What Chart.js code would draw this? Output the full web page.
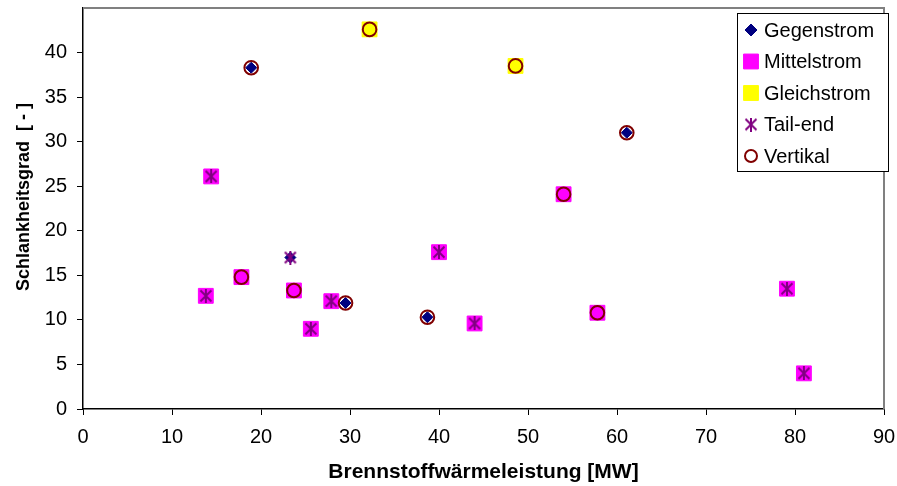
<!DOCTYPE html>
<html>
<head>
<meta charset="utf-8">
<script src="https://cdn.jsdelivr.net/npm/chart.js@4.4.1/dist/chart.umd.min.js"></script>
<style>
  body { margin: 0; background: #fff; }
</style>
</head>
<body>
<canvas id="myChart" width="897" height="486"></canvas>
<script>
// values
const gegenstromX = [18.9, 61.1, 38.7, 29.5, 23.3];
const gegenstromY = [38.3, 31.0, 10.3, 11.9, 17.0];

const mittelstromX = [14.4, 54.0, 40.0, 44.0, 57.8, 17.8, 13.8, 23.7, 27.9, 25.6, 79.1, 81.0];
const mittelstromY = [26.1, 24.1, 17.6, 9.6, 10.8, 14.8, 12.7, 13.3, 12.1, 9.0, 13.5, 4.0];

const gleichstromX = [32.2, 48.6];
const gleichstromY = [42.6, 38.5];

const tailEndX = [14.4, 40.0, 44.0, 13.8, 27.9, 25.6, 79.1, 81.0, 23.3];
const tailEndY = [26.1, 17.6, 9.6, 12.7, 12.1, 9.0, 13.5, 4.0, 17.0];

const vertikalX = [18.9, 32.2, 48.6, 61.1, 54.0, 38.7, 57.8, 17.8, 23.7, 29.5];
const vertikalY = [38.3, 42.6, 38.5, 31.0, 24.1, 10.3, 10.8, 14.8, 13.3, 11.9];

const xTitle = 'Brennstoffwärmeleistung [MW]';
const yTitle = 'Schlankheitsgrad  [ - ]';

const FONT = '"Liberation Sans", Arial, sans-serif';

function toPoints(xs, ys) {
    return xs.map((x, i) => ({ x: x, y: ys[i] }));
}

// excel style asterisk: vertical bar plus an X
function makeAsterisk(size, color) {
    const c = document.createElement('canvas');
    c.width = size;
    c.height = size;
    const g = c.getContext('2d');
    g.strokeStyle = color;
    g.lineWidth = 2;
    g.beginPath();
    g.moveTo(size / 2, 0);
    g.lineTo(size / 2, size);
    g.moveTo(1.5, 1.5);
    g.lineTo(size - 1.5, size - 1.5);
    g.moveTo(size - 1.5, 1.5);
    g.lineTo(1.5, size - 1.5);
    g.stroke();
    return c;
}
const asterisk = makeAsterisk(14, '#800080');

// gray frame on top and right of the plot area
const framePlugin = {
    id: 'frame',
    beforeDatasetsDraw(chart) {
        const { ctx, chartArea: a } = chart;
        ctx.save();
        ctx.strokeStyle = '#808080';
        ctx.lineWidth = 2;
        ctx.beginPath();
        ctx.moveTo(a.left, a.top);
        ctx.lineTo(a.right, a.top);
        ctx.lineTo(a.right, a.bottom);
        ctx.stroke();
        ctx.restore();
    }
};

// rotated y title (not centred on the axis in the original)
const yTitlePlugin = {
    id: 'yTitle',
    afterDraw(chart) {
        const ctx = chart.ctx;
        ctx.save();
        ctx.translate(24, 197);
        ctx.rotate(-Math.PI / 2);
        ctx.font = 'bold 18px ' + FONT;
        ctx.fillStyle = '#000';
        ctx.textAlign = 'center';
        ctx.textBaseline = 'middle';
        ctx.fillText(yTitle, 0, 0);
        ctx.restore();
    }
};

// boxed legend inside the plot, top right
const legendPlugin = {
    id: 'boxLegend',
    afterDraw(chart) {
        const ctx = chart.ctx;
        const left = 737, top = 13, right = 888, bottom = 171;
        ctx.save();
        ctx.fillStyle = '#fff';
        ctx.fillRect(left, top, right - left, bottom - top);
        ctx.strokeStyle = '#000';
        ctx.lineWidth = 1;
        ctx.strokeRect(left + 0.5, top + 0.5, right - left, bottom - top);

        ctx.font = '20px ' + FONT;
        ctx.textBaseline = 'middle';
        chart.data.datasets.forEach((ds, i) => {
            const y = 30 + i * 31.5;
            ctx.fillStyle = ds.backgroundColor;
            ctx.strokeStyle = ds.borderColor;
            ctx.lineWidth = ds.borderWidth || 1;
            Chart.helpers.drawPoint(ctx, {
                pointStyle: ds.pointStyle,
                rotation: 0,
                radius: ds.legendRadius,
                borderWidth: ds.borderWidth || 1
            }, 751, y);
            ctx.fillStyle = '#000';
            ctx.fillText(ds.label, 764, y + 1);
        });
        ctx.restore();
    }
};

const ctx = document.getElementById('myChart').getContext('2d');

new Chart(ctx, {
    type: 'scatter',
    data: {
        datasets: [
            {
                label: 'Gegenstrom',
                data: toPoints(gegenstromX, gegenstromY),
                pointStyle: 'rectRot',
                radius: 5.5,
                legendRadius: 6,
                backgroundColor: '#000080',
                borderColor: '#000080',
                borderWidth: 1,
                order: 3
            },
            {
                label: 'Mittelstrom',
                data: toPoints(mittelstromX, mittelstromY),
                pointStyle: 'rect',
                radius: 10.5,
                legendRadius: 10.5,
                backgroundColor: '#FF00FF',
                borderColor: '#FF00FF',
                borderWidth: 1,
                order: 5
            },
            {
                label: 'Gleichstrom',
                data: toPoints(gleichstromX, gleichstromY),
                pointStyle: 'rect',
                radius: 10.5,
                legendRadius: 10.5,
                backgroundColor: '#FFFF00',
                borderColor: '#FFFF00',
                borderWidth: 1,
                order: 4
            },
            {
                label: 'Tail-end',
                data: toPoints(tailEndX, tailEndY),
                pointStyle: asterisk,
                radius: 7,
                legendRadius: 7,
                backgroundColor: '#800080',
                borderColor: '#800080',
                borderWidth: 1,
                order: 1
            },
            {
                label: 'Vertikal',
                data: toPoints(vertikalX, vertikalY),
                pointStyle: 'circle',
                radius: 6.8,
                legendRadius: 6,
                backgroundColor: 'rgba(0,0,0,0)',
                borderColor: '#800000',
                borderWidth: 2,
                order: 2
            }
        ]
    },
    options: {
        responsive: false,
        animation: false,
        devicePixelRatio: 1,
        layout: { autoPadding: false, padding: { top: 8, right: 13, left: 0, bottom: 0 } },
        plugins: {
            legend: { display: false },
            tooltip: { enabled: false }
        },
        elements: { point: { hoverRadius: 0 } },
        scales: {
            x: {
                type: 'linear',
                min: 0,
                max: 90,
                ticks: {
                    stepSize: 10,
                    color: '#000',
                    padding: 10,
                    font: { family: FONT, size: 20 }
                },
                grid: { drawOnChartArea: false, color: '#000', tickLength: 6 },
                border: { color: '#000', width: 1.5 },
                title: {
                    display: true,
                    text: xTitle,
                    color: '#000',
                    padding: { top: 0, bottom: 1 },
                    font: { family: FONT, size: 21, weight: 'bold' }
                },
                afterFit(scale) {
                    scale.height = 77;
                    scale.paddingLeft = 0;
                    scale.paddingRight = 0;
                }
            },
            y: {
                type: 'linear',
                min: 0,
                max: 45,
                ticks: {
                    stepSize: 5,
                    color: '#000',
                    padding: 10,
                    font: { family: FONT, size: 20 }
                },
                afterBuildTicks(scale) {
                    // the top value 45 carries no label in the original
                    scale.ticks = scale.ticks.filter(t => t.value !== 45);
                },
                grid: { drawOnChartArea: false, color: '#000', tickLength: 6 },
                border: { color: '#000', width: 1.5 },
                afterFit(scale) {
                    scale.width = 83;
                    scale.paddingTop = 0;
                    scale.paddingBottom = 0;
                }
            }
        }
    },
    plugins: [framePlugin, legendPlugin, yTitlePlugin]
});
</script>
</body>
</html>
